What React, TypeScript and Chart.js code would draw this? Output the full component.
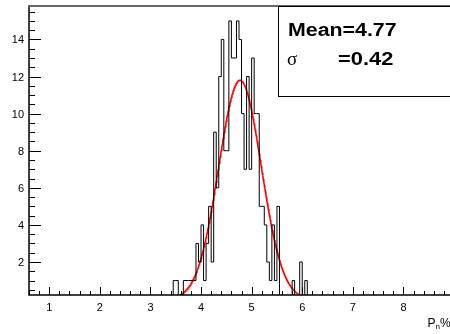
import React, { useEffect, useRef } from "react";
import { Chart, registerables } from "chart.js";

Chart.register(...registerables);

// Histogram of P_n% : fixed-width bins starting at binLow
const binLow = 3.45;
const binWidth = 0.05;
const counts = [
  1, 1, 1, 0, 0, 1, 1, 1, 1, 1,
  3, 2, 4, 1, 3, 5, 2,
  9, 6, 12, 14, 8, 8,
  15, 13, 13, 15, 14, 10,
  7, 12, 7, 13, 10, 10,
  5, 5, 4, 2, 1, 4, 1, 5,
  0, 0, 0, 0, 0,
  1, 0, 0, 2, 0, 1,
];

// Gaussian fit result
const fitMean = 4.77;
const fitSigma = 0.42;
const fitAmplitude = 11.8;
const fitFrom = 3.45;
const fitTo = 6.15;
const fitStep = 0.01;

// Axis ranges and labels
const xRange = [0.6, 8.92];
const yRange = [0.22, 15.75];
const xTickValues = [1, 2, 3, 4, 5, 6, 7, 8];
const xTickLabels = ["1", "2", "3", "4", "5", "6", "7", "8"];
const yTickValues = [2, 4, 6, 8, 10, 12, 14];
const yTickLabels = ["2", "4", "6", "8", "10", "12", "14"];
const statsLines = { mean: "Mean=4.77", sigmaSymbol: "σ", sigmaValue: "=0.42" };

function histogramOutline() {
  const pts: { x: number; y: number }[] = [];
  pts.push({ x: binLow, y: 0 });
  counts.forEach((c, i) => pts.push({ x: binLow + i * binWidth, y: c }));
  pts.push({ x: binLow + counts.length * binWidth, y: 0 });
  return pts;
}

function fitCurve() {
  const pts: { x: number; y: number }[] = [];
  const n = Math.round((fitTo - fitFrom) / fitStep);
  for (let i = 0; i <= n; i++) {
    const x = fitFrom + i * fitStep;
    const z = (x - fitMean) / fitSigma;
    pts.push({ x, y: fitAmplitude * Math.exp(-0.5 * z * z) });
  }
  return pts;
}

// draws text stretched horizontally
function wideText(ctx: CanvasRenderingContext2D, text: string, x: number, y: number, sx: number) {
  ctx.save();
  ctx.translate(x, y);
  ctx.scale(sx, 1);
  ctx.fillText(text, 0, 0);
  ctx.restore();
}

const rootFrame = {
  id: "rootFrame",
  afterDatasetsDraw(chart: any) {
    const { ctx, chartArea: a, scales } = chart;
    const xs = scales.x;
    const ys = scales.y;
    ctx.save();

    // frame top edge
    ctx.fillStyle = "#666";
    ctx.fillRect(a.left - 1, a.top - 2, a.right - a.left + 2, 2);

    // axis lines
    ctx.strokeStyle = "#000";
    ctx.lineWidth = 1.5;
    ctx.beginPath();
    ctx.moveTo(a.left, a.top);
    ctx.lineTo(a.left, a.bottom);
    ctx.lineTo(a.right, a.bottom);
    ctx.stroke();

    // x ticks (inward), minor every 0.2
    ctx.lineWidth = 1;
    const kx0 = Math.ceil(xRange[0] / 0.2 - 1e-9);
    const kx1 = Math.floor(xRange[1] / 0.2 + 1e-9);
    ctx.beginPath();
    for (let k = kx0; k <= kx1; k++) {
      const v = k * 0.2;
      const px = Math.round(xs.getPixelForValue(v)) + 0.5;
      const len = k % 5 === 0 ? 8 : 4;
      ctx.moveTo(px, a.bottom);
      ctx.lineTo(px, a.bottom - len);
    }
    // y ticks (inward), minor every 0.5
    const ky0 = Math.ceil(yRange[0] / 0.5 - 1e-9);
    const ky1 = Math.floor(yRange[1] / 0.5 + 1e-9);
    for (let k = ky0; k <= ky1; k++) {
      const v = k * 0.5;
      const py = Math.round(ys.getPixelForValue(v)) + 0.5;
      const len = k % 4 === 0 ? 12 : 6;
      ctx.moveTo(a.left, py);
      ctx.lineTo(a.left + len, py);
    }
    ctx.stroke();

    // tick labels
    ctx.fillStyle = "#000";
    ctx.font = '11px "Liberation Sans", Arial, sans-serif';
    ctx.textAlign = "center";
    ctx.textBaseline = "alphabetic";
    xTickValues.forEach((v, i) => {
      ctx.fillText(xTickLabels[i], xs.getPixelForValue(v), a.bottom + 15.7);
    });
    ctx.textAlign = "right";
    yTickValues.forEach((v, i) => {
      ctx.fillText(yTickLabels[i], a.left - 5, ys.getPixelForValue(v) + 4);
    });

    // x axis title P_n%
    ctx.textAlign = "left";
    ctx.font = '12px "Liberation Sans", Arial, sans-serif';
    const tx = a.right - 22.5;
    const ty = a.bottom + 31.7;
    ctx.fillText("P", tx, ty);
    const pw = ctx.measureText("P").width;
    ctx.font = '8px "Liberation Sans", Arial, sans-serif';
    ctx.fillText("n", tx + pw, ty + 2.5);
    const nw = ctx.measureText("n").width;
    ctx.font = '12px "Liberation Sans", Arial, sans-serif';
    ctx.fillText("%", tx + pw + nw, ty);

    // statistics box
    const bx = 278.5;
    const by = 6.5;
    ctx.fillStyle = "#fff";
    ctx.fillRect(bx, by, 200, 90);
    ctx.strokeStyle = "#000";
    ctx.lineWidth = 1;
    ctx.strokeRect(bx, by, 200, 90);
    ctx.fillStyle = "#000";
    ctx.font = 'bold 17.5px "Liberation Sans", Arial, sans-serif';
    wideText(ctx, statsLines.mean, 288, 36, 1.22);
    wideText(ctx, statsLines.sigmaValue, 338, 65, 1.25);
    ctx.font = '19px "Liberation Serif", serif';
    ctx.fillText(statsLines.sigmaSymbol, 287, 65);

    ctx.restore();
  },
};

export default function App() {
  const ref = useRef<HTMLCanvasElement | null>(null);

  useEffect(() => {
    if (!ref.current) return;
    const chart = new Chart(ref.current, {
      type: "line",
      data: {
        datasets: [
          {
            data: histogramOutline(),
            stepped: "after",
            borderColor: "#000",
            borderWidth: 1,
            pointRadius: 0,
            fill: false,
          },
          {
            data: fitCurve(),
            borderColor: "#ff0000",
            borderWidth: 1.6,
            pointRadius: 0,
            tension: 0,
            fill: false,
          },
        ],
      },
      options: {
        responsive: false,
        animation: false,
        devicePixelRatio: 1,
        parsing: false,
        normalized: true,
        layout: { padding: { left: 29, top: 7, right: 0, bottom: 39 } },
        scales: {
          x: { type: "linear", min: xRange[0], max: xRange[1], display: false },
          y: { type: "linear", min: yRange[0], max: yRange[1], display: false },
        },
        plugins: { legend: { display: false }, tooltip: { enabled: false } },
      },
      plugins: [rootFrame],
    });
    return () => chart.destroy();
  }, []);

  return (
    <div style={{ position: "fixed", left: 0, top: 0, width: 450, height: 334, background: "#fff" }}>
      <canvas ref={ref} width={450} height={334} style={{ display: "block" }} />
    </div>
  );
}
